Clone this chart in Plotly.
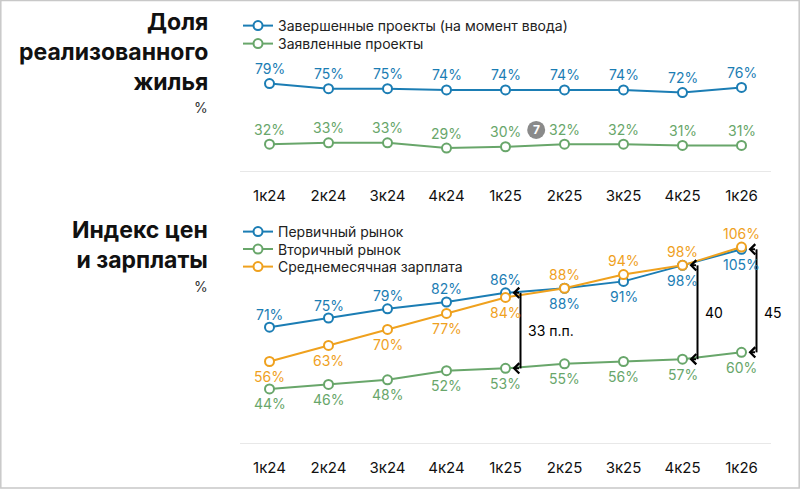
import plotly.graph_objects as go

# ---------------- data ----------------
quarters = ["1к24", "2к24", "3к24", "4к24", "1к25", "2к25", "3к25", "4к25", "1к26"]

completed = [79, 75, 75, 74, 74, 74, 74, 72, 76]   # Завершенные проекты
declared = [32, 33, 33, 29, 30, 32, 32, 31, 31]    # Заявленные проекты

primary = [71, 75, 79, 82, 86, 88, 91, 98, 105]    # Первичный рынок
secondary = [44, 46, 48, 52, 53, 55, 56, 57, 60]   # Вторичный рынок
salary = [56, 63, 70, 77, 84, 88, 94, 98, 106]     # Среднемесячная зарплата

gap_idx = [4, 7, 8]
gap_labels = ["33 п.п.", "40", "45"]

# ---------------- styles ----------------
BLUE = "#1b7db4"
GREEN = "#68a66a"
ORANGE = "#efa11e"
FONT = "Inter"
W, H = 800, 489

x = list(range(len(quarters)))


def py(p):  # pixel from top -> paper y
    return 1 - p / H


fig = go.Figure()
annotations = []
shapes = []


def add_series(y, name, color, above, xa, ya, legend, shift_up=14, shift_down=15):
    fig.add_trace(go.Scatter(
        x=x, y=y, name=name, mode="lines+markers",
        line=dict(color=color, width=2),
        marker=dict(size=9, color="white", line=dict(color=color, width=2)),
        xaxis=xa, yaxis=ya, legend=legend, cliponaxis=False,
    ))
    for i, v in enumerate(y):
        up = above[i]
        annotations.append(dict(
            text=f"{v}%", xref=xa, yref=ya, x=i, y=v, showarrow=False,
            yshift=shift_up if up else -shift_down, yanchor="middle",
            font=dict(family=FONT, size=14, color=color)))


n = len(quarters)
add_series(completed, "Завершенные проекты (на момент ввода)", BLUE, [True] * n, "x", "y", "legend", 15)
add_series(declared, "Заявленные проекты", GREEN, [True] * n, "x", "y", "legend2", 15)
add_series(primary, "Первичный рынок", BLUE, [True] * 5 + [False] * 4, "x2", "y2", "legend3", 13)
add_series(secondary, "Вторичный рынок", GREEN, [False] * n, "x2", "y2", "legend4")
add_series(salary, "Среднемесячная зарплата", ORANGE, [False] * 5 + [True] * 4, "x2", "y2", "legend5", 14)

xdom = [240 / W, 771 / W]
axis_x = dict(domain=xdom, range=[-0.5, 8.5], tickvals=x, ticktext=quarters,
              showgrid=False, zeroline=False, showline=True, linecolor="#e8e8e8",
              linewidth=1, ticks="", ticklabelstandoff=11,
              tickfont=dict(family=FONT, size=15, color="#111"))


def leg(top_px):
    return dict(x=238 / W, y=py(top_px), xanchor="left", yanchor="top",
                font=dict(family=FONT, size=14, color="#222"), bgcolor="rgba(0,0,0,0)")


fig.update_layout(
    width=W, height=H, margin=dict(l=0, r=0, t=0, b=0),
    paper_bgcolor="white", plot_bgcolor="white",
    xaxis=dict(axis_x, anchor="y"),
    yaxis=dict(domain=[py(171), py(55)], range=[11.2, 101.1], visible=False, anchor="x"),
    xaxis2=dict(axis_x, anchor="y2"),
    yaxis2=dict(domain=[py(443), py(215)], range=[20.4, 120], visible=False, anchor="x2"),
    legend=leg(10), legend2=leg(28),
    legend3=leg(216), legend4=leg(233.5), legend5=leg(251),
    showlegend=True,
)

# titles
annotations.append(dict(text="<b>Доля<br>реализованного<br>жилья</b>", xref="paper", yref="paper",
                        x=210 / W, y=py(52), xanchor="right", yanchor="middle", align="right",
                        showarrow=False, font=dict(family=FONT, size=23, color="#111")))
annotations.append(dict(text="%", xref="paper", yref="paper", x=210 / W, y=py(107),
                        xanchor="right", yanchor="middle", showarrow=False,
                        font=dict(family=FONT, size=14, color="#333")))
annotations.append(dict(text="<b>Индекс цен<br>и зарплаты</b>", xref="paper", yref="paper",
                        x=210 / W, y=py(245), xanchor="right", yanchor="middle", align="right",
                        showarrow=False, font=dict(family=FONT, size=23, color="#111")))
annotations.append(dict(text="%", xref="paper", yref="paper", x=210 / W, y=py(286),
                        xanchor="right", yanchor="middle", showarrow=False,
                        font=dict(family=FONT, size=14, color="#333")))

# footnote badge
shapes.append(dict(type="circle", xref="x", yref="y", xsizemode="pixel", ysizemode="pixel",
                   xanchor=4.52, yanchor=43, x0=-9, x1=9, y0=-9, y1=9,
                   fillcolor="#8a8a8a", line=dict(width=0)))
annotations.append(dict(text="<b>7</b>", xref="x", yref="y", x=4.52, y=43, showarrow=False,
                        font=dict(family=FONT, size=12, color="white")))

# gap brackets
for k, i in enumerate(gap_idx):
    top, bot = primary[i], secondary[i]
    shapes.append(dict(type="line", xref="x2", yref="y2", xsizemode="pixel", xanchor=i,
                       x0=15, x1=15, y0=top, y1=bot, line=dict(color="black", width=2)))
    for v in (top, bot):
        annotations.append(dict(xref="x2", yref="y2", x=i, y=v, ax=15, ay=0, text="",
                                showarrow=True, arrowhead=4, arrowsize=1, arrowwidth=2,
                                arrowcolor="black", standoff=7))
    mid = (top + bot) / 2 if k < 2 else (primary[gap_idx[1]] + secondary[gap_idx[1]]) / 2
    annotations.append(dict(text=gap_labels[k], xref="x2", yref="y2", x=i, y=mid,
                            xshift=20, xanchor="left", yanchor="middle", showarrow=False,
                            font=dict(family=FONT, size=14, color="black")))

# frame border
shapes.append(dict(type="rect", xref="paper", yref="paper", x0=0.001, x1=0.999, y0=0.002, y1=0.999,
                   line=dict(color="#c8c8c8", width=1.5)))

fig.update_layout(annotations=annotations, shapes=shapes)
fig.write_html("out.html")
